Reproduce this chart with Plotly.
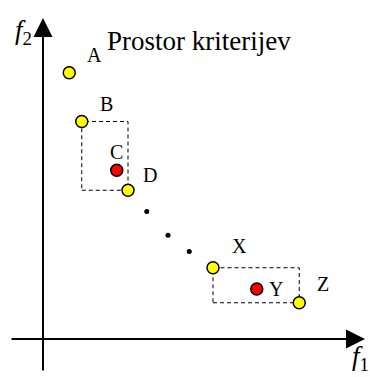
import plotly.graph_objects as go

# Points in criterion space (f1, f2)
front_names = ["A", "B", "D", "X", "Z"]
front_f1 = [1.05, 1.55, 3.40, 6.80, 10.25]
front_f2 = [10.65, 8.70, 5.95, 2.85, 1.45]

inner_names = ["C", "Y"]
inner_f1 = [2.95, 8.55]
inner_f2 = [6.75, 2.00]

# Ellipsis dots between D and X
dots_f1 = [4.15, 5.00, 5.85]
dots_f2 = [5.10, 4.15, 3.50]

title_text = "Prostor kriterijev"

# Axis extents in data units
x_min, x_max = -1.72, 13.08
y_min, y_max = -1.52, 13.56
axis_x_from, axis_x_to = -1.32, 12.88
axis_y_from, axis_y_to = -1.32, 12.84

FONT = "Liberation Serif, Times New Roman, serif"

fig = go.Figure()

# Dashed boxes spanned by B-D and X-Z
pt = dict(zip(front_names, zip(front_f1, front_f2)))
for a, b in [("B", "D"), ("X", "Z")]:
    (xa, ya), (xb, yb) = pt[a], pt[b]
    fig.add_shape(type="rect", x0=xa, x1=xb, y0=yb, y1=ya,
                  line=dict(color="black", width=1, dash="4px,3px"), layer="below")

# Coordinate axes with arrow heads
fig.add_annotation(x=axis_x_to, y=0, ax=axis_x_from, ay=0, xref="x", yref="y",
                   axref="x", ayref="y", showarrow=True, arrowhead=2, arrowsize=1.9,
                   arrowwidth=2, arrowcolor="black", standoff=0, text="")
fig.add_annotation(x=0, y=axis_y_to, ax=0, ay=axis_y_from, xref="x", yref="y",
                   axref="x", ayref="y", showarrow=True, arrowhead=2, arrowsize=1.9,
                   arrowwidth=2, arrowcolor="black", standoff=0, text="")

fig.add_trace(go.Scatter(x=dots_f1, y=dots_f2, mode="markers",
                         marker=dict(size=5, color="black"), hoverinfo="skip"))
fig.add_trace(go.Scatter(x=front_f1, y=front_f2, mode="markers",
                         marker=dict(size=12, color="#FFFF00",
                                     line=dict(color="black", width=1.5))))
fig.add_trace(go.Scatter(x=inner_f1, y=inner_f2, mode="markers",
                         marker=dict(size=12, color="#FF0000",
                                     line=dict(color="black", width=1.5))))

# Point labels, offset in pixels from each point
label_offsets = {"A": (25, 18), "B": (25, 18), "C": (0, 18), "D": (22, 15),
                 "X": (26, 22), "Y": (19, 0), "Z": (24, 19)}
all_pts = list(zip(front_names, front_f1, front_f2)) + list(zip(inner_names, inner_f1, inner_f2))
for name, fx, fy in all_pts:
    dx, dy = label_offsets[name]
    fig.add_annotation(x=fx, y=fy, xref="x", yref="y", text=name, showarrow=False,
                       xshift=dx, yshift=dy, font=dict(family=FONT, size=20, color="black"))

# Axis names and title
fig.add_annotation(x=13 / 370, y=1 - 13 / 377, xref="paper", yref="paper",
                   text="<i>f</i><sub>2</sub>", showarrow=False,
                   font=dict(family=FONT, size=27, color="black"))
fig.add_annotation(x=371 / 370, y=1 - 377 / 377, xref="paper", yref="paper",
                   text="<i>f</i><sub>1</sub>", showarrow=False,
                   font=dict(family=FONT, size=27, color="black"))
fig.add_annotation(x=199 / 370, y=1 - 24 / 377, xref="paper", yref="paper",
                   text=title_text, showarrow=False,
                   font=dict(family=FONT, size=27, color="black"))

fig.update_layout(width=370, height=377, margin=dict(l=0, r=0, t=0, b=0),
                  paper_bgcolor="white", plot_bgcolor="white", showlegend=False,
                  xaxis=dict(range=[x_min, x_max], visible=False, fixedrange=True),
                  yaxis=dict(range=[y_min, y_max], visible=False, fixedrange=True))

fig.write_html("out.html")
